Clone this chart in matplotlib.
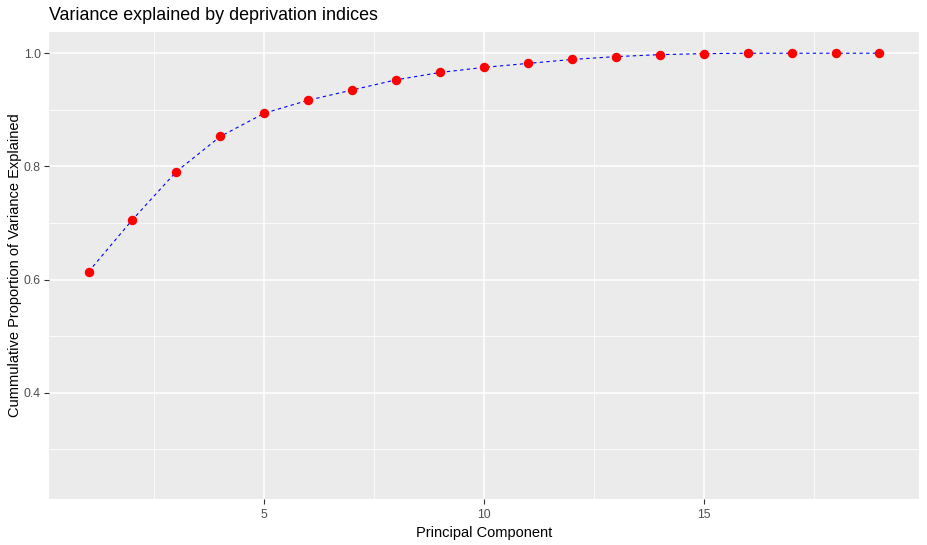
import matplotlib
matplotlib.use("Agg")
import matplotlib.pyplot as plt
from matplotlib.ticker import FixedLocator

plt.rcParams['font.family'] = ['Liberation Sans', 'DejaVu Sans']

components = list(range(1, 20))
cum_var = [0.614, 0.706, 0.791, 0.853, 0.894, 0.917, 0.935, 0.953, 0.966,
           0.975, 0.982, 0.989, 0.994, 0.9975, 0.9993, 1.0, 1.0, 1.0, 1.0]
title = "Variance explained by deprivation indices"
xlabel = "Principal Component"
ylabel = "Cummulative Proportion of Variance Explained"
xticks = [5, 10, 15]
yticks = [0.4, 0.6, 0.8, 1.0]

fig = plt.figure(figsize=(9.27, 5.45), dpi=100)
ax = fig.add_axes([49/927, 1-499/545, (919-49)/927, (499-32)/545])
ax.set_facecolor('#EBEBEB')
for s in ax.spines.values():
    s.set_visible(False)

ax.set_xlim(0.1, 19.9)
ax.set_ylim(0.2125, 1.0375)
ax.xaxis.set_major_locator(FixedLocator(xticks))
ax.yaxis.set_major_locator(FixedLocator(yticks))
ax.xaxis.set_minor_locator(FixedLocator([2.5, 7.5, 12.5, 17.5]))
ax.yaxis.set_minor_locator(FixedLocator([0.3, 0.5, 0.7, 0.9]))
ax.set_xticklabels([str(t) for t in xticks])
ax.set_yticklabels([f"{t:.1f}" for t in yticks])
ax.grid(which='major', color='white', linewidth=1.1)
ax.grid(which='minor', color='white', linewidth=0.55)
ax.set_axisbelow(True)
ax.tick_params(which='major', length=3.5, width=0.8, color='#333333',
               labelcolor='#4D4D4D', labelsize=8.7, pad=2.5)
ax.tick_params(axis='x', which='major', pad=3.5)
ax.tick_params(which='minor', length=0)

ax.plot(components, cum_var, color='blue', linestyle=(0, (3, 3)), linewidth=0.8, zorder=3)
ax.plot(components, cum_var, linestyle='none', marker='o', markersize=5.8,
        color='red', zorder=4)

ax.set_xlabel(xlabel, fontsize=10.5, color='black', labelpad=3.5)
ax.set_ylabel(ylabel, fontsize=10.5, color='black', labelpad=1.5)
fig.text(49/927, 1-16/545, title, fontsize=12.9, color='black', ha='left', va='center')

fig.savefig('out.png', dpi=100)
